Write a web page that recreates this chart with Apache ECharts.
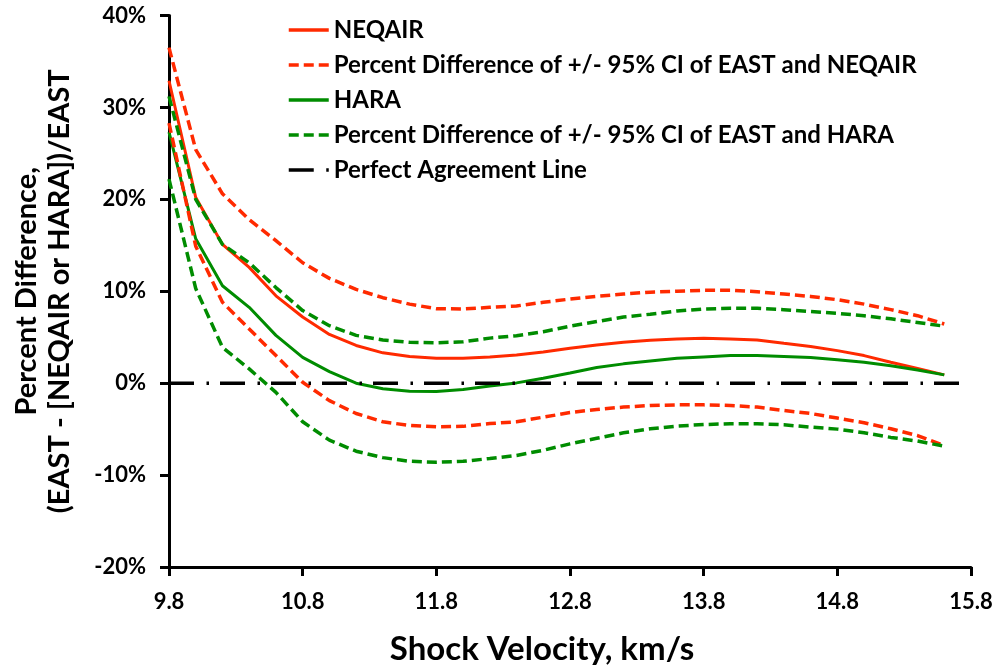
<!DOCTYPE html>
<html>
<head>
<meta charset="utf-8">
<script src="https://cdn.jsdelivr.net/npm/echarts@6/dist/echarts.min.js"></script>
<style>
html,body{margin:0;padding:0;background:#fff;}
#chart{width:996px;height:671px;}
</style>
</head>
<body>
<div id="chart"></div>
<script>
// Shock velocity (km/s)
var velocity = [9.8,10.0,10.2,10.4,10.6,10.8,11.0,11.2,11.4,11.6,11.8,12.0,12.2,12.4,12.6,12.8,13.0,13.2,13.4,13.6,13.8,14.0,14.2,14.4,14.6,14.8,15.0,15.2,15.4,15.6];
// Percent difference values (%)
var neqair = [32.9,20.2,15.1,12.6,9.5,7.2,5.3,4.1,3.3,2.9,2.7,2.7,2.85,3.07,3.4,3.8,4.16,4.45,4.67,4.8,4.88,4.8,4.7,4.34,4.0,3.54,3.0,2.28,1.6,0.9];
var neqairUpper = [36.5,25.4,20.6,17.8,15.5,13.1,11.4,10.2,9.3,8.6,8.1,8.07,8.25,8.4,8.8,9.15,9.44,9.7,9.9,10.0,10.1,10.1,9.95,9.7,9.44,9.08,8.6,8.0,7.34,6.44];
var neqairLower = [28.3,14.9,8.8,5.9,3.0,0.1,-1.9,-3.3,-4.2,-4.6,-4.75,-4.7,-4.4,-4.2,-3.7,-3.2,-2.86,-2.6,-2.43,-2.36,-2.36,-2.43,-2.6,-2.97,-3.3,-3.8,-4.3,-4.96,-5.7,-6.8];
var hara = [27.3,15.7,10.6,8.25,5.2,2.8,1.26,0.0,-0.6,-0.87,-0.9,-0.7,-0.3,0.03,0.54,1.1,1.7,2.1,2.4,2.7,2.86,3.0,3.0,2.9,2.8,2.56,2.28,1.9,1.44,0.9];
var haraUpper = [31.2,20.0,15.1,13.1,10.4,7.9,6.25,5.2,4.7,4.45,4.4,4.5,4.9,5.17,5.6,6.2,6.7,7.2,7.5,7.85,8.07,8.14,8.14,8.0,7.8,7.6,7.34,7.0,6.6,6.2];
var haraLower = [22.2,10.3,3.9,1.55,-1.0,-4.2,-6.2,-7.4,-8.1,-8.5,-8.6,-8.5,-8.2,-7.86,-7.3,-6.6,-6.0,-5.4,-4.96,-4.67,-4.5,-4.42,-4.42,-4.53,-4.78,-5.0,-5.4,-5.9,-6.3,-6.85];
// Perfect agreement line
var agreementX = [9.8, 15.75];
var agreementY = [0, 0];

var seriesNames = [
  'NEQAIR',
  'Percent Difference of +/- 95% CI of EAST and NEQAIR',
  'HARA',
  'Percent Difference of +/- 95% CI of EAST and HARA',
  'Perfect Agreement Line'
];

function pairs(xs, ys){ return xs.map(function(x,i){ return [x, ys[i]]; }); }

var RED = '#FF2A00', GREEN = '#008C00';
var FONT = 'Lato';

function lineSeries(name, data, color, dashed, width){
  return {
    name: name, type: 'line', data: data, symbol: 'none', smooth: false,
    lineStyle: { color: color, width: width, type: dashed ? [10,5] : 'solid' },
    itemStyle: { color: color },
    emphasis: { disabled: true }, animation: false
  };
}

var chart = echarts.init(document.getElementById('chart'));
chart.setOption({
  animation: false,
  backgroundColor: '#fff',
  grid: { left: 169, right: 25, top: 15.5, bottom: 102.7, containLabel: false },
  legend: {
    orient: 'vertical', left: 282, top: 13,
    itemWidth: 40, itemHeight: 14, itemGap: 11,
    itemStyle: { opacity: 0 },
    lineStyle: { width: 3.5 },
    textStyle: { fontFamily: FONT, fontWeight: 'bold', fontSize: 24, color: '#000', lineHeight: 24 },
    data: seriesNames,
    selectedMode: false
  },
  xAxis: {
    type: 'value', min: 9.8, max: 15.8, interval: 1,
    name: 'Shock Velocity, km/s', nameLocation: 'middle', nameGap: 66,
    nameTextStyle: { fontFamily: FONT, fontWeight: 'bold', fontSize: 33, color: '#000', padding: [0, 56, 0, 0] },
    axisLine: { show: true, onZero: false, lineStyle: { color: '#000', width: 3 } },
    axisTick: { show: true, length: 9, lineStyle: { color: '#000', width: 3 } },
    axisLabel: { fontFamily: FONT, fontWeight: 'bold', fontSize: 22, color: '#000', margin: 24,
      formatter: function(v){ return v.toFixed(1); } },
    splitLine: { show: false }
  },
  yAxis: {
    type: 'value', min: -20, max: 40, interval: 10,
    name: 'Percent Difference,\n(EAST - [NEQAIR or HARA])/EAST', nameLocation: 'middle', nameGap: 93, nameRotate: 90,
    nameTextStyle: { fontFamily: FONT, fontWeight: 'bold', fontSize: 29, color: '#000', lineHeight: 33 },
    axisLine: { show: true, onZero: false, lineStyle: { color: '#000', width: 3 } },
    axisTick: { show: true, length: 9, lineStyle: { color: '#000', width: 3 } },
    axisLabel: { fontFamily: FONT, fontWeight: 'bold', fontSize: 22, color: '#000', margin: 23,
      formatter: '{value}%' },
    splitLine: { show: false }
  },
  series: [
    lineSeries(seriesNames[0], pairs(velocity, neqair), RED, false, 3),
    lineSeries(seriesNames[1], pairs(velocity, neqairUpper), RED, true, 3.5),
    lineSeries(seriesNames[2], pairs(velocity, hara), GREEN, false, 3),
    lineSeries(seriesNames[3], pairs(velocity, haraUpper), GREEN, true, 3.5),
    lineSeries(seriesNames[1], pairs(velocity, neqairLower), RED, true, 3.5),
    lineSeries(seriesNames[3], pairs(velocity, haraLower), GREEN, true, 3.5),
    {
      name: seriesNames[4], type: 'line', data: pairs(agreementX, agreementY), symbol: 'none',
      lineStyle: { color: '#000', width: 3.5, type: [25, 12.5, 2.5, 11] },
      itemStyle: { color: '#000' }, emphasis: { disabled: true }, animation: false
    }
  ]
});
</script>
</body>
</html>
